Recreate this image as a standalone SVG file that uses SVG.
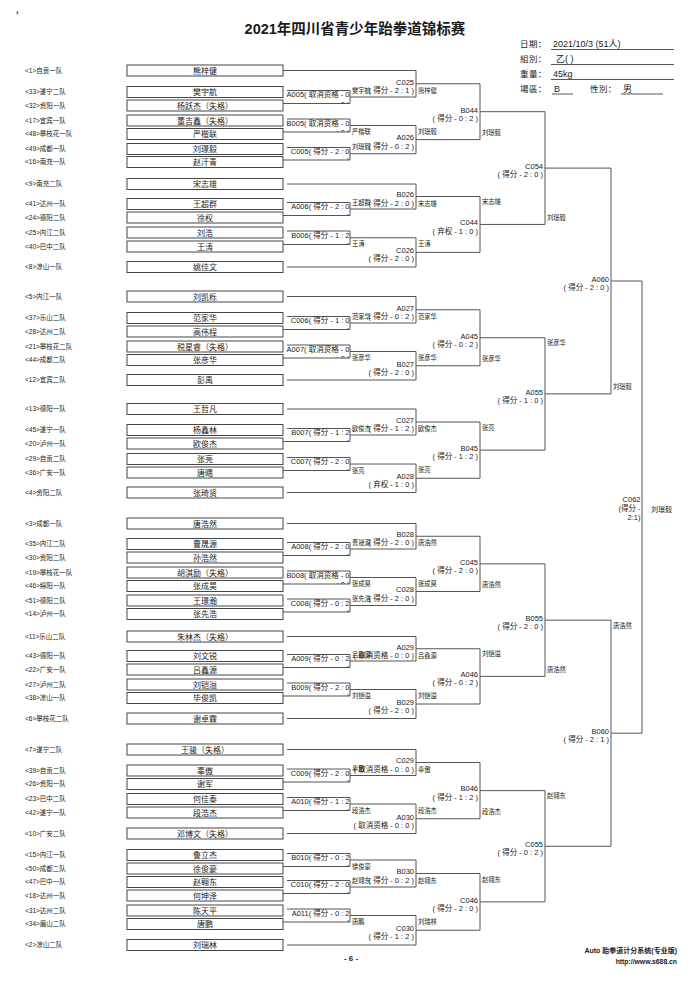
<svg xmlns="http://www.w3.org/2000/svg" width="700" height="990" viewBox="0 0 700 990">
<style>
text{font-family:"Liberation Sans","Noto Sans CJK SC",sans-serif;fill:#1a1a1a}
.tm{font-size:6.5px}
.nm{font-size:8px;text-anchor:middle}
.bx{fill:#fff;stroke:#444;stroke-width:1}
.ml{font-size:7.5px;text-anchor:end}
.cd{font-size:7.5px;text-anchor:end}
.wn{font-size:6.3px}
.cn{fill:none;stroke:#555;stroke-width:1}
.ul{stroke:#444;stroke-width:0.9}
.il{font-size:8.5px;letter-spacing:0.4px}
.iv{font-size:9px}
.title{font-size:14.5px;font-weight:bold;text-anchor:middle}
.ft{font-size:7px;font-weight:bold;text-anchor:end}
</style>
<rect width="700" height="990" fill="#fff"/>
<g id="header">
<text x="16" y="13" style="font-size:9px;font-weight:bold">,</text>
<text class="title" x="355" y="34">2021年四川省青少年跆拳道锦标赛</text>
<text class="il" x="520" y="47">日期：</text><text class="iv" x="553" y="47">2021/10/3 (51人)</text><line class="ul" x1="551" y1="49.5" x2="674" y2="49.5"/>
<text class="il" x="520" y="62">組別：</text><text class="iv" x="556" y="62">乙( )</text><line class="ul" x1="551" y1="64.5" x2="674" y2="64.5"/>
<text class="il" x="520" y="77">重量：</text><text class="iv" x="553" y="77">45kg</text><line class="ul" x1="551" y1="79.5" x2="674" y2="79.5"/>
<text class="il" x="520" y="92">場區：</text><text class="iv" x="554" y="92">B</text><line class="ul" x1="552" y1="94" x2="573" y2="94"/>
<text class="il" x="590" y="92">性別：</text><text class="iv" x="623" y="92">男</text><line class="ul" x1="621" y1="94" x2="663" y2="94"/>
</g>
<g id="connectors" class="cn">
<path d="M287,70.5H283M287,90.5H350V103.5H283M287,119H350V132H283M287,147.5H350V160H283M287,202.5H350V215.5H283M287,231H350V244.5H283M287,316.5H350V329.5H283M287,345H350V358H283M287,428.5H350V441.5H283M287,457.5H350V470.5H283M287,542.5H350V555.5H283M287,571H350V584H283M287,599H350V612H283M287,654.5H350V667.5H283M287,683H350V696H283M287,769H350V782H283M287,797.5H350V810.5H283M287,853.5H350V866.5H283M287,880.5H350V893.5H283M287,909H350V922H283"/>
<path d="M287,70.5H416V97H350M350,125.5H416V153.75H350M287,184H416V209H350M350,237.75H416V267H287M287,296.5H416V323H350M350,351.5H416V380H287M287,409H416V435H350M350,464H416V492.5H287M287,523.5H416V549H350M350,577.5H416V605.5H350M287,636.5H416V661H350M350,689.5H416V718.5H287M287,749.5H416V775.5H350M350,804H416V833.5H287M350,860H416V887H350M350,915.5H416V945H287"/>
<path d="M416,83.75H480V139.6H416M416,196.5H480V252.4H416M416,309.75H480V365.75H416M416,422H480V478.25H416M416,536.25H480V591.5H416M416,648.75H480V704H416M416,762.5H480V818.75H416M416,873.5H480V930.25H416"/>
<path d="M480,111.7H545V224.45H480M480,337.75H545V450.1H480M480,563.9H545V676.4H480M480,790.6H545V901.9H480"/>
<path d="M545,168.1H611V393.9H545M545,620.15H611V846.25H545"/>
<path d="M611,281H642V733.2H611"/>
</g>
<g id="entries">
<g id="e1"><text class="tm" x="25" y="72.8">&lt;1&gt;自贡一队</text><rect class="bx" x="127" y="65" width="156" height="11"/><text class="nm" x="205" y="73.5">熊梓健</text></g>
<g id="e33"><text class="tm" x="25" y="94.3">&lt;33&gt;遂宁二队</text><rect class="bx" x="127" y="86.5" width="156" height="11"/><text class="nm" x="205" y="95">樊宇航</text></g>
<g id="e32"><text class="tm" x="25" y="107.8">&lt;32&gt;资阳一队</text><rect class="bx" x="127" y="100" width="156" height="11"/><text class="nm" x="205" y="108.5">杨跃杰（失格）</text></g>
<g id="e17"><text class="tm" x="25" y="122.8">&lt;17&gt;宜宾一队</text><rect class="bx" x="127" y="115" width="156" height="11"/><text class="nm" x="205" y="123.5">董吉鑫（失格）</text></g>
<g id="e48"><text class="tm" x="25" y="136.3">&lt;48&gt;攀枝花一队</text><rect class="bx" x="127" y="128.5" width="156" height="11"/><text class="nm" x="205" y="137">严楷联</text></g>
<g id="e49"><text class="tm" x="25" y="151.3">&lt;49&gt;成都一队</text><rect class="bx" x="127" y="143.5" width="156" height="11"/><text class="nm" x="205" y="152">刘璟毅</text></g>
<g id="e16"><text class="tm" x="25" y="164.3">&lt;16&gt;南充一队</text><rect class="bx" x="127" y="156.5" width="156" height="11"/><text class="nm" x="205" y="165">赵汗青</text></g>
<g id="e9"><text class="tm" x="25" y="186.3">&lt;9&gt;南充二队</text><rect class="bx" x="127" y="178.5" width="156" height="11"/><text class="nm" x="205" y="187">宋志雄</text></g>
<g id="e41"><text class="tm" x="25" y="206.3">&lt;41&gt;达州一队</text><rect class="bx" x="127" y="198.5" width="156" height="11"/><text class="nm" x="205" y="207">王超群</text></g>
<g id="e24"><text class="tm" x="25" y="219.8">&lt;24&gt;德阳二队</text><rect class="bx" x="127" y="212" width="156" height="11"/><text class="nm" x="205" y="220.5">徐权</text></g>
<g id="e25"><text class="tm" x="25" y="234.8">&lt;25&gt;内江二队</text><rect class="bx" x="127" y="227" width="156" height="11"/><text class="nm" x="205" y="235.5">刘浩</text></g>
<g id="e40"><text class="tm" x="25" y="248.8">&lt;40&gt;巴中二队</text><rect class="bx" x="127" y="241" width="156" height="11"/><text class="nm" x="205" y="249.5">王涛</text></g>
<g id="e8"><text class="tm" x="25" y="269.3">&lt;8&gt;凉山一队</text><rect class="bx" x="127" y="261.5" width="156" height="11"/><text class="nm" x="205" y="270">姚佳文</text></g>
<g id="e5"><text class="tm" x="25" y="298.8">&lt;5&gt;内江一队</text><rect class="bx" x="127" y="291" width="156" height="11"/><text class="nm" x="205" y="299.5">刘凯栎</text></g>
<g id="e37"><text class="tm" x="25" y="320.3">&lt;37&gt;乐山二队</text><rect class="bx" x="127" y="312.5" width="156" height="11"/><text class="nm" x="205" y="321">范家华</text></g>
<g id="e28"><text class="tm" x="25" y="333.8">&lt;28&gt;达州二队</text><rect class="bx" x="127" y="326" width="156" height="11"/><text class="nm" x="205" y="334.5">高伟程</text></g>
<g id="e21"><text class="tm" x="25" y="348.8">&lt;21&gt;攀枝花二队</text><rect class="bx" x="127" y="341" width="156" height="11"/><text class="nm" x="205" y="349.5">税星睿（失格）</text></g>
<g id="e44"><text class="tm" x="25" y="362.3">&lt;44&gt;成都二队</text><rect class="bx" x="127" y="354.5" width="156" height="11"/><text class="nm" x="205" y="363">张彦华</text></g>
<g id="e12"><text class="tm" x="25" y="382.3">&lt;12&gt;宜宾二队</text><rect class="bx" x="127" y="374.5" width="156" height="11"/><text class="nm" x="205" y="383">彭禹</text></g>
<g id="e13"><text class="tm" x="25" y="411.3">&lt;13&gt;德阳一队</text><rect class="bx" x="127" y="403.5" width="156" height="11"/><text class="nm" x="205" y="412">王哲凡</text></g>
<g id="e45"><text class="tm" x="25" y="432.3">&lt;45&gt;遂宁一队</text><rect class="bx" x="127" y="424.5" width="156" height="11"/><text class="nm" x="205" y="433">杨鑫林</text></g>
<g id="e20"><text class="tm" x="25" y="445.8">&lt;20&gt;泸州一队</text><rect class="bx" x="127" y="438" width="156" height="11"/><text class="nm" x="205" y="446.5">欧俊杰</text></g>
<g id="e29"><text class="tm" x="25" y="461.3">&lt;29&gt;自贡二队</text><rect class="bx" x="127" y="453.5" width="156" height="11"/><text class="nm" x="205" y="462">张亮</text></g>
<g id="e36"><text class="tm" x="25" y="474.8">&lt;36&gt;广安一队</text><rect class="bx" x="127" y="467" width="156" height="11"/><text class="nm" x="205" y="475.5">唐曦</text></g>
<g id="e4"><text class="tm" x="25" y="494.8">&lt;4&gt;资阳二队</text><rect class="bx" x="127" y="487" width="156" height="11"/><text class="nm" x="205" y="495.5">张琦贤</text></g>
<g id="e3"><text class="tm" x="25" y="525.8">&lt;3&gt;成都一队</text><rect class="bx" x="127" y="518" width="156" height="11"/><text class="nm" x="205" y="526.5">唐浩然</text></g>
<g id="e35"><text class="tm" x="25" y="546.3">&lt;35&gt;内江二队</text><rect class="bx" x="127" y="538.5" width="156" height="11"/><text class="nm" x="205" y="547">曹晟源</text></g>
<g id="e30"><text class="tm" x="25" y="559.8">&lt;30&gt;资阳二队</text><rect class="bx" x="127" y="552" width="156" height="11"/><text class="nm" x="205" y="560.5">孙浩然</text></g>
<g id="e19"><text class="tm" x="25" y="574.8">&lt;19&gt;攀枝花一队</text><rect class="bx" x="127" y="567" width="156" height="11"/><text class="nm" x="205" y="575.5">胡淇励（失格）</text></g>
<g id="e46"><text class="tm" x="25" y="588.3">&lt;46&gt;绵阳一队</text><rect class="bx" x="127" y="580.5" width="156" height="11"/><text class="nm" x="205" y="589">张成昊</text></g>
<g id="e51"><text class="tm" x="25" y="602.8">&lt;51&gt;德阳二队</text><rect class="bx" x="127" y="595" width="156" height="11"/><text class="nm" x="205" y="603.5">王璟瀚</text></g>
<g id="e14"><text class="tm" x="25" y="616.3">&lt;14&gt;泸州一队</text><rect class="bx" x="127" y="608.5" width="156" height="11"/><text class="nm" x="205" y="617">张先浩</text></g>
<g id="e11"><text class="tm" x="25" y="638.8">&lt;11&gt;乐山二队</text><rect class="bx" x="127" y="631" width="156" height="11"/><text class="nm" x="205" y="639.5">朱林杰（失格）</text></g>
<g id="e43"><text class="tm" x="25" y="658.3">&lt;43&gt;德阳一队</text><rect class="bx" x="127" y="650.5" width="156" height="11"/><text class="nm" x="205" y="659">刘文锐</text></g>
<g id="e22"><text class="tm" x="25" y="671.8">&lt;22&gt;广安一队</text><rect class="bx" x="127" y="664" width="156" height="11"/><text class="nm" x="205" y="672.5">吕鑫源</text></g>
<g id="e27"><text class="tm" x="25" y="686.8">&lt;27&gt;泸州二队</text><rect class="bx" x="127" y="679" width="156" height="11"/><text class="nm" x="205" y="687.5">刘铠溢</text></g>
<g id="e38"><text class="tm" x="25" y="700.3">&lt;38&gt;凉山一队</text><rect class="bx" x="127" y="692.5" width="156" height="11"/><text class="nm" x="205" y="701">毕俊凯</text></g>
<g id="e6"><text class="tm" x="25" y="720.8">&lt;6&gt;攀枝花二队</text><rect class="bx" x="127" y="713" width="156" height="11"/><text class="nm" x="205" y="721.5">谢卓霖</text></g>
<g id="e7"><text class="tm" x="25" y="751.8">&lt;7&gt;遂宁二队</text><rect class="bx" x="127" y="744" width="156" height="11"/><text class="nm" x="205" y="752.5">王骏（失格）</text></g>
<g id="e39"><text class="tm" x="25" y="772.8">&lt;39&gt;自贡二队</text><rect class="bx" x="127" y="765" width="156" height="11"/><text class="nm" x="205" y="773.5">辜傲</text></g>
<g id="e26"><text class="tm" x="25" y="786.3">&lt;26&gt;资阳一队</text><rect class="bx" x="127" y="778.5" width="156" height="11"/><text class="nm" x="205" y="787">谢军</text></g>
<g id="e23"><text class="tm" x="25" y="801.3">&lt;23&gt;巴中二队</text><rect class="bx" x="127" y="793.5" width="156" height="11"/><text class="nm" x="205" y="802">何佳泰</text></g>
<g id="e42"><text class="tm" x="25" y="814.8">&lt;42&gt;遂宁一队</text><rect class="bx" x="127" y="807" width="156" height="11"/><text class="nm" x="205" y="815.5">段浩杰</text></g>
<g id="e10"><text class="tm" x="25" y="835.8">&lt;10&gt;广安二队</text><rect class="bx" x="127" y="828" width="156" height="11"/><text class="nm" x="205" y="836.5">邓博文（失格）</text></g>
<g id="e15"><text class="tm" x="25" y="857.3">&lt;15&gt;内江一队</text><rect class="bx" x="127" y="849.5" width="156" height="11"/><text class="nm" x="205" y="858">鲁立杰</text></g>
<g id="e50"><text class="tm" x="25" y="870.8">&lt;50&gt;成都二队</text><rect class="bx" x="127" y="863" width="156" height="11"/><text class="nm" x="205" y="871.5">徐俊豪</text></g>
<g id="e47"><text class="tm" x="25" y="884.3">&lt;47&gt;巴中一队</text><rect class="bx" x="127" y="876.5" width="156" height="11"/><text class="nm" x="205" y="885">赵翱东</text></g>
<g id="e18"><text class="tm" x="25" y="897.8">&lt;18&gt;达州一队</text><rect class="bx" x="127" y="890" width="156" height="11"/><text class="nm" x="205" y="898.5">何坤泽</text></g>
<g id="e31"><text class="tm" x="25" y="912.8">&lt;31&gt;达州二队</text><rect class="bx" x="127" y="905" width="156" height="11"/><text class="nm" x="205" y="913.5">陈天平</text></g>
<g id="e34"><text class="tm" x="25" y="926.3">&lt;34&gt;眉山二队</text><rect class="bx" x="127" y="918.5" width="156" height="11"/><text class="nm" x="205" y="927">唐鹏</text></g>
<g id="e2"><text class="tm" x="25" y="947.3">&lt;2&gt;凉山二队</text><rect class="bx" x="127" y="939.5" width="156" height="11"/><text class="nm" x="205" y="948">刘瑞林</text></g>
</g>
<g id="round1">
<g id="A005"><svg x="283" y="90.5" width="67" height="13" overflow="hidden"><text class="ml" x="66.5" y="6.8">A005( 取消资格 - 0</text><text class="ml" x="66.5" y="16.2">: 0 )</text></svg><text class="wn" x="352" y="92.5">樊宇航</text></g>
<g id="B005"><svg x="283" y="119" width="67" height="13" overflow="hidden"><text class="ml" x="66.5" y="6.8">B005( 取消资格 - 0</text><text class="ml" x="66.5" y="16.2">: 0 )</text></svg><text class="wn" x="352" y="134">严楷联</text></g>
<g id="C005"><svg x="283" y="147.5" width="67" height="12.5" overflow="hidden"><text class="ml" x="66.5" y="6.8">C005( 得分 - 2 : 0</text><text class="ml" x="66.5" y="15.7">)</text></svg><text class="wn" x="352" y="149.3">刘璟毅</text></g>
<g id="A006"><svg x="283" y="202.5" width="67" height="13" overflow="hidden"><text class="ml" x="66.5" y="6.8">A006( 得分 - 2 : 0</text><text class="ml" x="66.5" y="16.2">)</text></svg><text class="wn" x="352" y="204.5">王超群</text></g>
<g id="B006"><svg x="283" y="231" width="67" height="13.5" overflow="hidden"><text class="ml" x="66.5" y="6.8">B006( 得分 - 1 : 2</text><text class="ml" x="66.5" y="16.7">)</text></svg><text class="wn" x="352" y="246.3">王涛</text></g>
<g id="C006"><svg x="283" y="316.5" width="67" height="13" overflow="hidden"><text class="ml" x="66.5" y="6.8">C006( 得分 - 1 : 0</text><text class="ml" x="66.5" y="16.2">)</text></svg><text class="wn" x="352" y="318.5">范家华</text></g>
<g id="A007"><svg x="283" y="345" width="67" height="13" overflow="hidden"><text class="ml" x="66.5" y="6.8">A007( 取消资格 - 0</text><text class="ml" x="66.5" y="16.2">: 0 )</text></svg><text class="wn" x="352" y="360">张彦华</text></g>
<g id="B007"><svg x="283" y="428.5" width="67" height="13" overflow="hidden"><text class="ml" x="66.5" y="6.8">B007( 得分 - 1 : 2</text><text class="ml" x="66.5" y="16.2">)</text></svg><text class="wn" x="352" y="430.5">欧俊杰</text></g>
<g id="C007"><svg x="283" y="457.5" width="67" height="13" overflow="hidden"><text class="ml" x="66.5" y="6.8">C007( 得分 - 2 : 0</text><text class="ml" x="66.5" y="16.2">)</text></svg><text class="wn" x="352" y="472.5">张亮</text></g>
<g id="A008"><svg x="283" y="542.5" width="67" height="13" overflow="hidden"><text class="ml" x="66.5" y="6.8">A008( 得分 - 2 : 0</text><text class="ml" x="66.5" y="16.2">)</text></svg><text class="wn" x="352" y="544.5">曹晟源</text></g>
<g id="B008"><svg x="283" y="571" width="67" height="13" overflow="hidden"><text class="ml" x="66.5" y="6.8">B008( 取消资格 - 0</text><text class="ml" x="66.5" y="16.2">: 0 )</text></svg><text class="wn" x="352" y="586">张成昊</text></g>
<g id="C008"><svg x="283" y="599" width="67" height="13" overflow="hidden"><text class="ml" x="66.5" y="6.8">C008( 得分 - 0 : 2</text><text class="ml" x="66.5" y="16.2">)</text></svg><text class="wn" x="352" y="601">张先浩</text></g>
<g id="A009"><svg x="283" y="654.5" width="67" height="13" overflow="hidden"><text class="ml" x="66.5" y="6.8">A009( 得分 - 0 : 2</text><text class="ml" x="66.5" y="16.2">)</text></svg><text class="wn" x="352" y="656.5">吕鑫源</text></g>
<g id="B009"><svg x="283" y="683" width="67" height="13" overflow="hidden"><text class="ml" x="66.5" y="6.8">B009( 得分 - 2 : 0</text><text class="ml" x="66.5" y="16.2">)</text></svg><text class="wn" x="352" y="698">刘铠溢</text></g>
<g id="C009"><svg x="283" y="769" width="67" height="13" overflow="hidden"><text class="ml" x="66.5" y="6.8">C009( 得分 - 2 : 0</text><text class="ml" x="66.5" y="16.2">)</text></svg><text class="wn" x="352" y="771">辜傲</text></g>
<g id="A010"><svg x="283" y="797.5" width="67" height="13" overflow="hidden"><text class="ml" x="66.5" y="6.8">A010( 得分 - 1 : 2</text><text class="ml" x="66.5" y="16.2">)</text></svg><text class="wn" x="352" y="812.5">段浩杰</text></g>
<g id="B010"><svg x="283" y="853.5" width="67" height="13" overflow="hidden"><text class="ml" x="66.5" y="6.8">B010( 得分 - 0 : 2</text><text class="ml" x="66.5" y="16.2">)</text></svg><text class="wn" x="352" y="868.5">徐俊豪</text></g>
<g id="C010"><svg x="283" y="880.5" width="67" height="13" overflow="hidden"><text class="ml" x="66.5" y="6.8">C010( 得分 - 2 : 0</text><text class="ml" x="66.5" y="16.2">)</text></svg><text class="wn" x="352" y="882.5">赵翱东</text></g>
<g id="A011"><svg x="283" y="909" width="67" height="13" overflow="hidden"><text class="ml" x="66.5" y="6.8">A011( 得分 - 0 : 2</text><text class="ml" x="66.5" y="16.2">)</text></svg><text class="wn" x="352" y="924">唐鹏</text></g>
</g>
<g id="round2">
<g id="C025"><text class="cd" x="414" y="84.5">C025</text><text class="cd" x="414" y="92.75">( 得分 - 2 : 1 )</text><text class="wn" x="418" y="92.75">熊梓健</text></g>
<g id="A026"><text class="cd" x="414" y="140.4">A026</text><text class="cd" x="414" y="148.6">( 得分 - 0 : 2 )</text><text class="wn" x="418" y="133.6">刘璟毅</text></g>
<g id="B026"><text class="cd" x="414" y="197.3">B026</text><text class="cd" x="414" y="205.5">( 得分 - 2 : 0 )</text><text class="wn" x="418" y="205.5">宋志雄</text></g>
<g id="C026"><text class="cd" x="414" y="253.2">C026</text><text class="cd" x="414" y="261.4">( 得分 - 2 : 0 )</text><text class="wn" x="418" y="246.4">王涛</text></g>
<g id="A027"><text class="cd" x="414" y="310.5">A027</text><text class="cd" x="414" y="318.75">( 得分 - 0 : 2 )</text><text class="wn" x="418" y="318.75">范家华</text></g>
<g id="B027"><text class="cd" x="414" y="366.5">B027</text><text class="cd" x="414" y="374.75">( 得分 - 2 : 0 )</text><text class="wn" x="418" y="359.75">张彦华</text></g>
<g id="C027"><text class="cd" x="414" y="422.8">C027</text><text class="cd" x="414" y="431">( 得分 - 1 : 2 )</text><text class="wn" x="418" y="431">欧俊杰</text></g>
<g id="A028"><text class="cd" x="414" y="479">A028</text><text class="cd" x="414" y="487.25">( 弃权 - 1 : 0 )</text><text class="wn" x="418" y="472.25">张亮</text></g>
<g id="B028"><text class="cd" x="414" y="537">B028</text><text class="cd" x="414" y="545.25">( 得分 - 2 : 0 )</text><text class="wn" x="418" y="545.25">唐浩然</text></g>
<g id="C028"><text class="cd" x="414" y="592.3">C028</text><text class="cd" x="414" y="600.5">( 得分 - 2 : 0 )</text><text class="wn" x="418" y="585.5">张成昊</text></g>
<g id="A029"><text class="cd" x="414" y="649.5">A029</text><text class="cd" x="414" y="657.75">( 取消资格 - 0 : 0 )</text><text class="wn" x="418" y="657.75">吕鑫源</text></g>
<g id="B029"><text class="cd" x="414" y="704.8">B029</text><text class="cd" x="414" y="713">( 得分 - 2 : 0 )</text><text class="wn" x="418" y="698">刘铠溢</text></g>
<g id="C029"><text class="cd" x="414" y="763.3">C029</text><text class="cd" x="414" y="771.5">( 取消资格 - 0 : 0 )</text><text class="wn" x="418" y="771.5">辜傲</text></g>
<g id="A030"><text class="cd" x="414" y="819.5">A030</text><text class="cd" x="414" y="827.75">( 取消资格 - 0 : 0 )</text><text class="wn" x="418" y="812.75">段浩杰</text></g>
<g id="B030"><text class="cd" x="414" y="874.3">B030</text><text class="cd" x="414" y="882.5">( 得分 - 0 : 2 )</text><text class="wn" x="418" y="882.5">赵翱东</text></g>
<g id="C030"><text class="cd" x="414" y="931">C030</text><text class="cd" x="414" y="939.25">( 得分 - 1 : 2 )</text><text class="wn" x="418" y="924.25">刘瑞林</text></g>
</g>
<g id="round3">
<g id="B044"><text class="cd" x="478" y="112.5">B044</text><text class="cd" x="478" y="120.7">( 得分 - 0 : 2 )</text><text class="wn" x="482" y="134.7">刘璟毅</text></g>
<g id="C044"><text class="cd" x="478" y="225.2">C044</text><text class="cd" x="478" y="233.5">( 弃权 - 1 : 0 )</text><text class="wn" x="482" y="204.45">宋志雄</text></g>
<g id="A045"><text class="cd" x="478" y="338.5">A045</text><text class="cd" x="478" y="346.75">( 得分 - 0 : 2 )</text><text class="wn" x="482" y="360.75">张彦华</text></g>
<g id="B045"><text class="cd" x="478" y="450.9">B045</text><text class="cd" x="478" y="459.1">( 得分 - 1 : 2 )</text><text class="wn" x="482" y="430.1">张亮</text></g>
<g id="C045"><text class="cd" x="478" y="564.7">C045</text><text class="cd" x="478" y="572.9">( 得分 - 2 : 0 )</text><text class="wn" x="482" y="586.9">唐浩然</text></g>
<g id="A046"><text class="cd" x="478" y="677.2">A046</text><text class="cd" x="478" y="685.4">( 得分 - 0 : 2 )</text><text class="wn" x="482" y="656.4">刘铠溢</text></g>
<g id="B046"><text class="cd" x="478" y="791.4">B046</text><text class="cd" x="478" y="799.6">( 得分 - 1 : 2 )</text><text class="wn" x="482" y="813.6">段浩杰</text></g>
<g id="C046"><text class="cd" x="478" y="902.7">C046</text><text class="cd" x="478" y="910.9">( 得分 - 2 : 0 )</text><text class="wn" x="482" y="881.9">赵翱东</text></g>
</g>
<g id="round4">
<g id="C054"><text class="cd" x="543" y="168.9">C054</text><text class="cd" x="543" y="177.1">( 得分 - 2 : 0 )</text><text class="wn" x="547" y="219.6">刘璟毅</text></g>
<g id="A055"><text class="cd" x="543" y="394.7">A055</text><text class="cd" x="543" y="402.9">( 得分 - 1 : 0 )</text><text class="wn" x="547" y="345.4">张彦华</text></g>
<g id="B055"><text class="cd" x="543" y="621">B055</text><text class="cd" x="543" y="629.15">( 得分 - 2 : 0 )</text><text class="wn" x="547" y="671.65">唐浩然</text></g>
<g id="C055"><text class="cd" x="543" y="847">C055</text><text class="cd" x="543" y="855.25">( 得分 - 0 : 2 )</text><text class="wn" x="547" y="797.75">赵翱东</text></g>
</g>
<g id="round5">
<g id="A060"><text class="cd" x="609" y="281.8">A060</text><text class="cd" x="609" y="290">( 得分 - 2 : 0 )</text><text class="wn" x="613" y="389">刘璟毅</text></g>
<g id="B060"><text class="cd" x="609" y="734">B060</text><text class="cd" x="609" y="742.2">( 得分 - 2 : 1 )</text><text class="wn" x="613" y="628.2">唐浩然</text></g>
</g>
<g id="final">
<g id="C062"><text class="cd" x="640.5" y="501.5">C062</text><text class="cd" x="640.5" y="511">(得分 -</text><text class="cd" x="640.5" y="519.5">2:1)</text><text x="651" y="511.5" style="font-size:7px">刘璟毅</text></g>
</g>
<g id="footer">
<text x="351" y="961" style="font-size:8px;font-weight:bold;text-anchor:middle">- 6 -</text>
<text class="ft" x="677" y="953">Auto 跆拳道计分系统(专业版)</text>
<text class="ft" x="677" y="963.5" style="font-size:6.8px">http://www.s688.cn</text>
</g>
</svg>
